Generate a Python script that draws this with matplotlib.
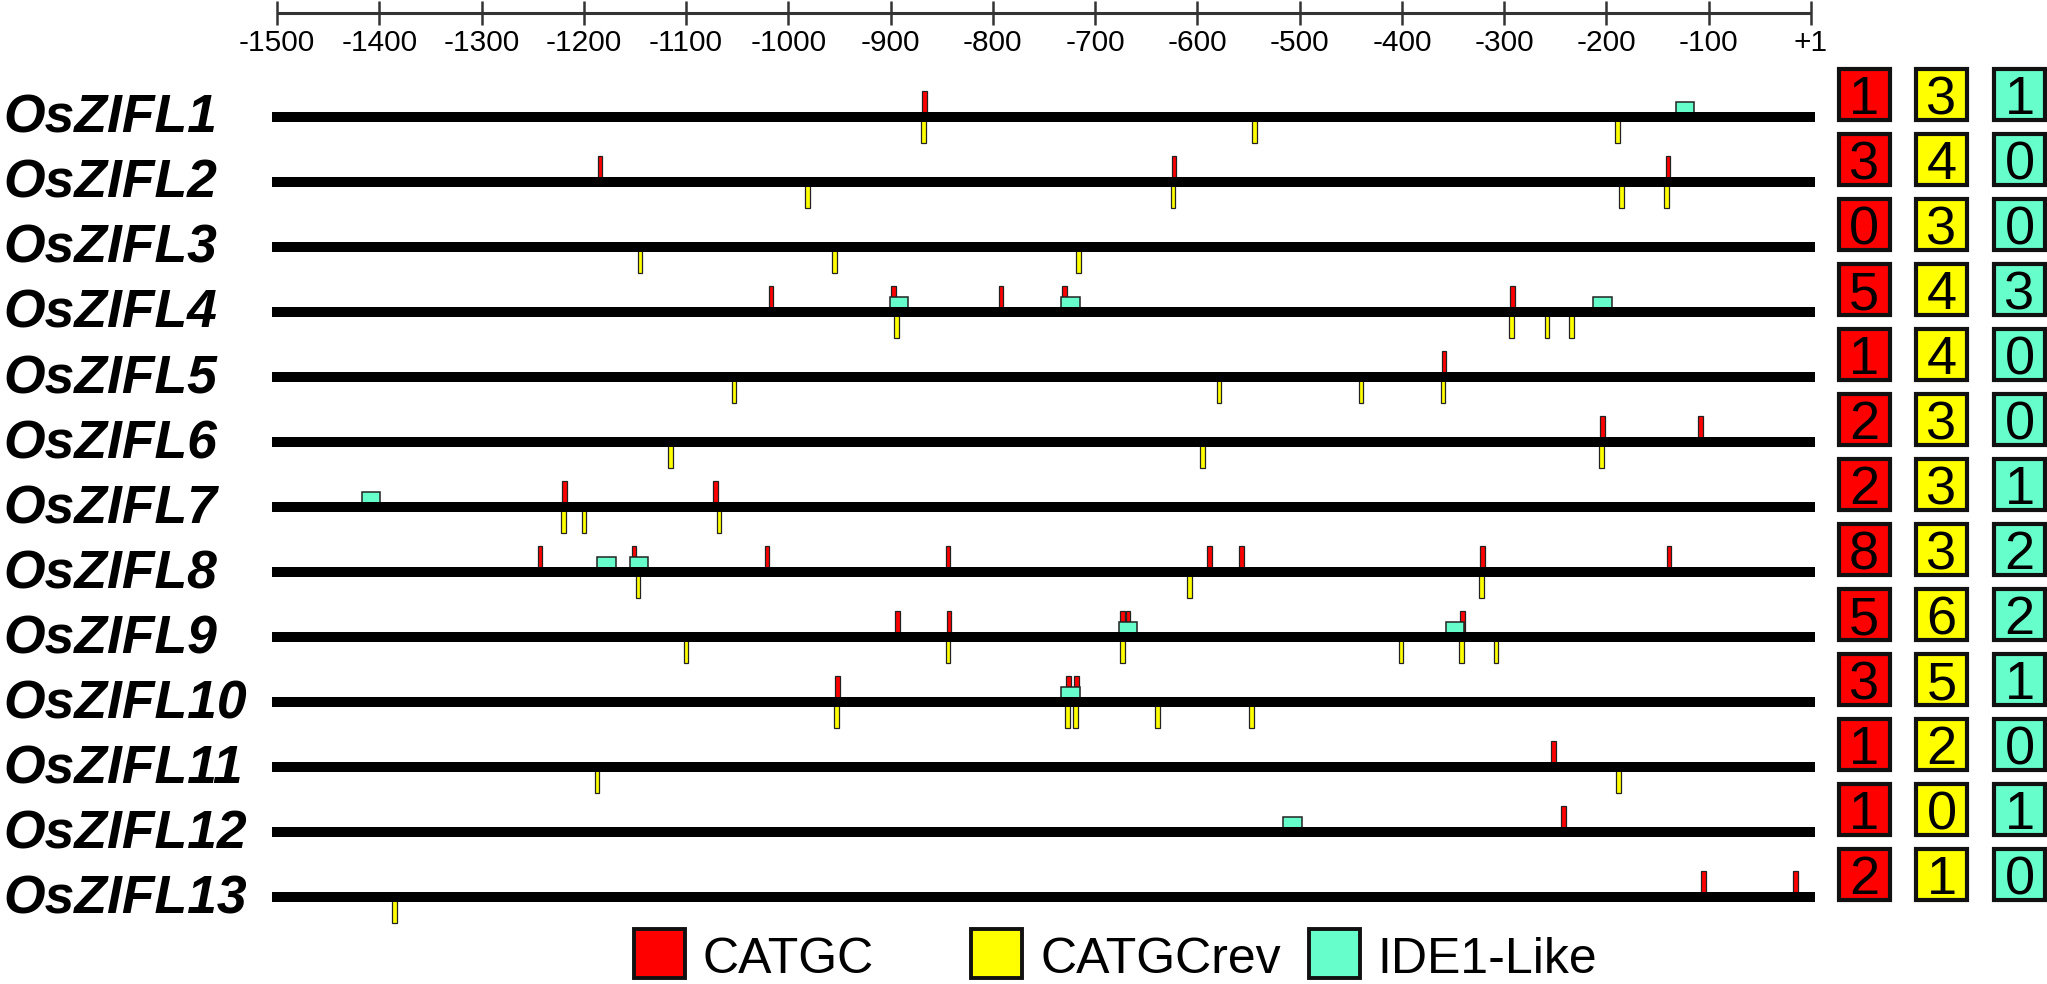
import numpy as np
import matplotlib
matplotlib.use('Agg')
import matplotlib.pyplot as plt

genes = ['OsZIFL1', 'OsZIFL2', 'OsZIFL3', 'OsZIFL4', 'OsZIFL5', 'OsZIFL6', 'OsZIFL7',
         'OsZIFL8', 'OsZIFL9', 'OsZIFL10', 'OsZIFL11', 'OsZIFL12', 'OsZIFL13']

# motif positions (bp upstream of the start)
catgc = [[-867], [-1184, -623, -140], [], [-1017, -897, -792, -730, -292], [-359],
         [-204, -108], [-1219, -1071], [-1243, -1151, -1021, -844, -588, -557, -321, -139],
         [-893, -843, -673, -668, -341], [-952, -726, -718], [-252], [-242], [-105, -15]]
catgc_rev = [[-868, -544, -189], [-981, -624, -185, -141], [-1145, -955, -716],
             [-894, -293, -258, -234], [-1053, -579, -440, -360], [-1115, -595, -205],
             [-1220, -1200, -1068], [-1147, -608, -322], [-1100, -844, -673, -401, -342, -308],
             [-953, -727, -719, -639, -547], [-1187, -188], [], [-1385]]
ide1 = [[-123], [], [], [-892, -724, -204], [], [], [-1408], [-1178, -1146], [-668, -348],
        [-724], [], [-507], []]

tick_pos = [-1500, -1400, -1300, -1200, -1100, -1000, -900, -800, -700, -600, -500,
            -400, -300, -200, -100, 0]
tick_lab = ['-1500', '-1400', '-1300', '-1200', '-1100', '-1000', '-900', '-800', '-700',
            '-600', '-500', '-400', '-300', '-200', '-100', '+1']

motif_names = ['CATGC', 'CATGCrev', 'IDE1-Like']
colors = ['#ff0000', '#ffff00', '#66ffcc']

sans = ['Liberation Sans', 'DejaVu Sans']

fig = plt.figure(figsize=(20.47, 9.84), dpi=100)
ax = fig.add_axes([0, 0, 1, 1])
ax.set_xlim(-1770.9, 230.8)
ax.set_ylim(13.338, -1.8)
ax.axis('off')

rows = np.arange(len(genes))

# gene promoter lines
ax.barh(rows, 1509, left=-1505, height=0.15, color='black', zorder=3)

for i, name in enumerate(genes):
    ax.text(-1768, i + 0.246, name, ha='left', va='baseline', fontsize=38.5,
            weight='bold', style='italic', family=sans)
    # motif marks
    ax.bar(catgc[i], -0.4, bottom=i, width=4.5, color=colors[0],
           edgecolor='#222222', linewidth=0.9, zorder=2)
    ax.bar(catgc_rev[i], 0.4, bottom=i, width=4.5, color=colors[1],
           edgecolor='#222222', linewidth=0.9, zorder=2)
    ax.bar(ide1[i], -0.23, bottom=i, width=18, color=colors[2],
           edgecolor='#222222', linewidth=1.1, zorder=2)
    # count boxes
    counts = [len(catgc[i]), len(catgc_rev[i]), len(ide1[i])]
    for j, (cx, c) in enumerate(zip([52.0, 127.6, 203.9], counts)):
        ax.bar(cx, -0.785, bottom=i + 0.042, width=50, color=colors[j],
               edgecolor='#111111', linewidth=3, zorder=2)
        ax.text(cx, i - 0.045, str(c), ha='center', va='baseline', fontsize=39,
                family=sans, zorder=4)

# ruler on top
ax.hlines(-1.6, tick_pos[0], tick_pos[-1], color='#333333', linewidth=2.2)
ax.vlines(tick_pos, -1.785, -1.415, color='#333333', linewidth=1.8)
for p, lab in zip(tick_pos, tick_lab):
    ax.text(p, -1.015, lab, ha='center', va='baseline', fontsize=21.5, family=sans)

# legend
leg_x = [-1126, -796.5, -466]
leg_tx = [-1084.4, -753.9, -424.4]
for x, tx, c, lab in zip(leg_x, leg_tx, colors, motif_names):
    ax.bar(x, -0.75, bottom=13.246, width=50, color=c, edgecolor='#111111',
           linewidth=2.8)
    ax.text(tx, 13.17, lab, ha='left', va='baseline', fontsize=36, family=sans)

fig.savefig('out.png', dpi=100)
